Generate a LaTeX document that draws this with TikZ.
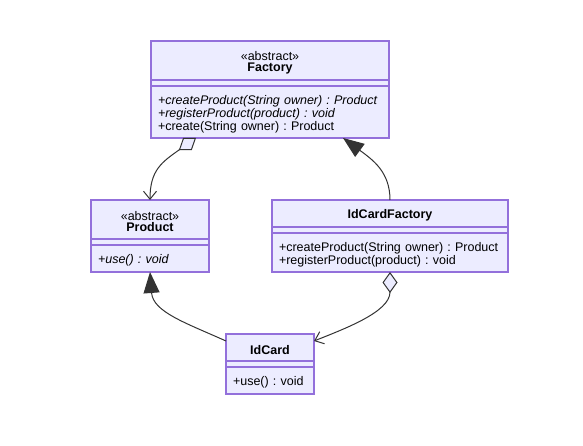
\documentclass[tikz,border=0pt]{standalone}
\usepackage{fontspec}
\setmainfont{Liberation Sans}
\usetikzlibrary{positioning,arrows.meta}
\definecolor{clsfill}{HTML}{ECECFF}
\definecolor{clsline}{HTML}{9370DB}
\definecolor{edgegray}{HTML}{333333}
\frenchspacing

\begin{document}
\begin{tikzpicture}[x=1pt,y=-1pt,
	every node/.style={font=\fontsize{12.5}{12.6}\selectfont,text=black},
	box/.style={draw=clsline,fill=clsfill,line width=1.2pt,
		inner sep=0pt,outer sep=0pt},
	lowered/.style={execute at begin node={\rule{0pt}{13.5pt}}},
	head/.style={box,lowered,minimum width=#1,minimum height=27pt,align=center},
	abshead/.style={box,minimum width=#1,minimum height=39pt,align=center},
	attr/.style={box,minimum width=#1,minimum height=6pt},
	meth/.style={box,lowered,text width=#1,inner xsep=7pt,align=left},
	edge line/.style={draw=edgegray,line width=1pt},
	aggr/.style={edge line,
		arrows={Diamond[length=21pt,width=15pt,fill=clsfill]-Straight Barb[length=8pt,width=13pt]}},
	inherit/.style={edge line,arrows={-Triangle[length=21pt,width=16pt]}}]
	
	\useasboundingbox (0,0) rectangle (583,446);
	
	% Factory
	\node[abshead=238pt,anchor=north] (fac-h) at (270,41)
		{\rule{0pt}{14pt}«abstract»\\[-1.5pt]\textbf{Factory}};
	\node[attr=238pt,below=0pt of fac-h] (fac-a) {};
	\node[meth=224pt,minimum height=52pt,below=0pt of fac-a] (fac-m)
		{\textit{+createProduct(String owner) : Product}\\
		 \textit{+registerProduct(product) : void}\\
		 +create(String owner) : Product};
	
	% Product
	\node[abshead=118pt,anchor=north] (prod-h) at (150,200)
		{\rule{0pt}{14pt}«abstract»\\[-1.5pt]\textbf{Product}};
	\node[attr=118pt,below=0pt of prod-h] (prod-a) {};
	\node[meth=104pt,minimum height=27pt,below=0pt of prod-a] (prod-m)
		{\textit{+use() : void}};
	
	% IdCardFactory
	\node[head=236pt,anchor=north] (icf-h) at (390,200) {\textbf{IdCardFactory}};
	\node[attr=236pt,below=0pt of icf-h] (icf-a) {};
	\node[meth=222pt,minimum height=39pt,below=0pt of icf-a] (icf-m)
		{+createProduct(String owner) : Product\\
		 +registerProduct(product) : void};
	
	% IdCard
	\node[head=88pt,anchor=north] (card-h) at (270,334) {\textbf{IdCard}};
	\node[attr=88pt,below=0pt of card-h] (card-a) {};
	\node[meth=74pt,minimum height=27pt,below=0pt of card-a] (card-m)
		{+use() : void};
	
	\draw[aggr] ([xshift=-74pt]fac-m.south) .. controls +(-34,24) and +(0,-30) .. (prod-h.north);
	\draw[inherit] (icf-h.north) .. controls +(0,-28) and +(30,22) .. ([xshift=73pt]fac-m.south);
	\draw[aggr] (icf-m.south) .. controls +(0,40) and +(30,-12) .. ([yshift=-7pt]card-h.north east);
	\draw[inherit] ([yshift=-7pt]card-h.north west) .. controls +(-40,-18) and +(3,40) .. (prod-m.south);
	
\end{tikzpicture}
\end{document}
